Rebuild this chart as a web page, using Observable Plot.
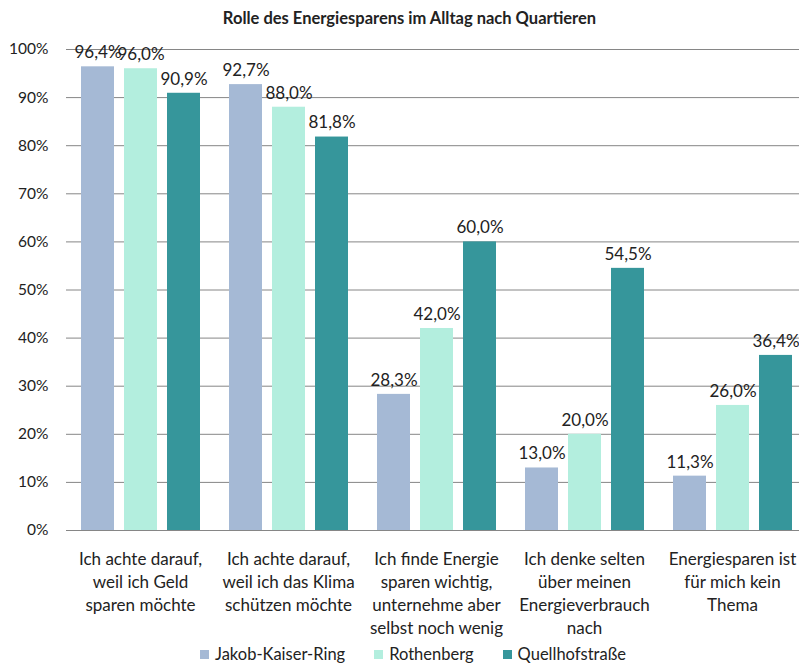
<!DOCTYPE html>
<html>
<head>
<meta charset="utf-8">
<script src="https://cdn.jsdelivr.net/npm/d3@7"></script>
<script src="https://cdn.jsdelivr.net/npm/@observablehq/plot@0.6"></script>
<style>
  body { margin: 0; background: #fff; font-family: Lato, "Open Sans", sans-serif; color: #222; }
  #wrap { width: 799px; height: 665px; position: relative; overflow: hidden; }
  #title { box-sizing: border-box; height: 30px; padding-top: 8px; line-height: 20px; text-align: center; font-weight: bold; font-size: 16.5px; padding-left: 20px; }
  #legend { height: 18px; line-height: 18px; display: flex; justify-content: center; gap: 29px; font-size: 16.5px; padding-left: 27px; }
  .item { display: flex; align-items: center; gap: 6px; }
  .sw { width: 9px; height: 9px; display: inline-block; }
</style>
</head>
<body>
<div id="wrap">
  <div id="title">Rolle des Energiesparens im Alltag nach Quartieren</div>
  <div id="chart"></div>
  <div id="legend"></div>
</div>
<script>
const categories = [
  "Ich achte darauf,\nweil ich Geld\nsparen möchte",
  "Ich achte darauf,\nweil ich das Klima\nschützen möchte",
  "Ich finde Energie\nsparen wichtig,\nunternehme aber\nselbst noch wenig",
  "Ich denke selten\nüber meinen\nEnergieverbrauch\nnach",
  "Energiesparen ist\nfür mich kein\nThema"
];
const series = ["Jakob-Kaiser-Ring", "Rothenberg", "Quellhofstraße"];
const jakobKaiserRing = [96.4, 92.7, 28.3, 13.0, 11.3];
const rothenberg = [96.0, 88.0, 42.0, 20.0, 26.0];
const quellhofstrasse = [90.9, 81.8, 60.0, 54.5, 36.4];
const colors = ["#A5B9D5", "#B3EEDE", "#36969B"];
const yTicks = [0, 10, 20, 30, 40, 50, 60, 70, 80, 90, 100];

const valuesBySeries = [jakobKaiserRing, rothenberg, quellhofstrasse];
const data = [];
categories.forEach((c, i) => {
  series.forEach((s, j) => data.push({category: c, series: s, value: valuesBySeries[j][i]}));
});
const fmt = v => v.toFixed(1).replace(".", ",") + "%";

const chart = Plot.plot({
  width: 799,
  height: 615,
  marginLeft: 66,
  marginRight: 0,
  marginTop: 19,
  marginBottom: 115,
  style: {fontFamily: "Lato, 'Open Sans', sans-serif", fontSize: "15px", color: "#222", background: "#fff"},
  fx: {domain: categories, range: [66, 806], padding: 0, axis: null},
  x: {domain: series, paddingInner: 0.24, paddingOuter: 0.32, axis: null},
  y: {domain: [0, 100]},
  color: {domain: series, range: colors},
  marks: [
    Plot.gridY(yTicks, {stroke: "#868686", strokeOpacity: 1, strokeWidth: 1}),
    Plot.axisY(yTicks, {tickSize: 0, tickPadding: 18, tickFormat: d => d + "%", label: null, fontSize: 15.5}),
    Plot.barY(data, {fx: "category", x: "series", y: "value", fill: "series"}),
    Plot.text(data, {fx: "category", x: "series", y: "value", text: d => fmt(d.value), dy: -14, fontSize: 17, fill: "#222"}),
    Plot.text(categories, {fx: d => d, text: d => d, frameAnchor: "bottom", lineAnchor: "top", dy: 18, lineHeight: 1.35, fontSize: 17, fill: "#222"})
  ]
});
document.getElementById("chart").appendChild(chart);

const legend = document.getElementById("legend");
series.forEach((s, i) => {
  const item = document.createElement("div");
  item.className = "item";
  const sw = document.createElement("span");
  sw.className = "sw";
  sw.style.background = colors[i];
  const t = document.createElement("span");
  t.textContent = s;
  item.appendChild(sw);
  item.appendChild(t);
  legend.appendChild(item);
});
</script>
</body>
</html>
